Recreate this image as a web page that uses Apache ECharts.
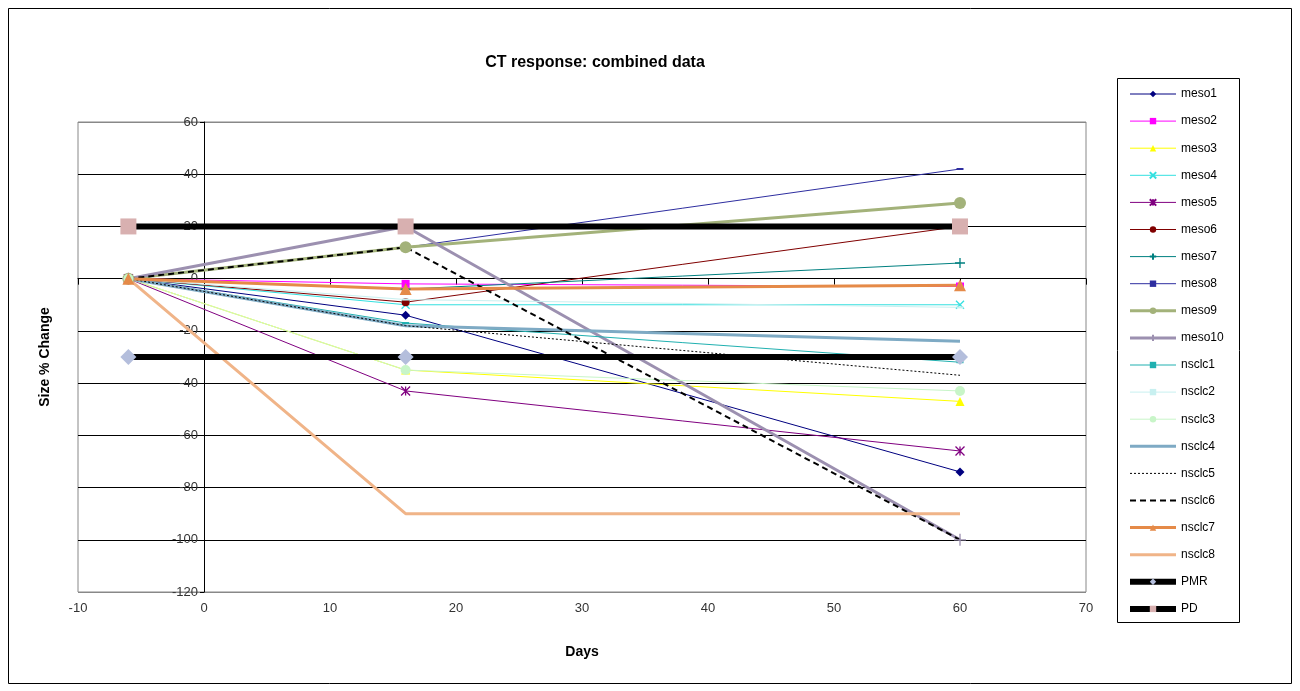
<!DOCTYPE html>
<html>
<head>
<meta charset="utf-8">
<script src="https://cdn.jsdelivr.net/npm/echarts@6/dist/echarts.min.js"></script>
<style>
  html, body { margin: 0; padding: 0; background: #fff; }
  #chart { width: 1300px; height: 691px; }
</style>
</head>
<body>
<div id="chart"></div>
<script>
// Scan days
const days = [-6, 16, 60];

// Size % change per patient at each scan
const meso1 = [0, -14, -74];
const meso2 = [0, -2, -3];
const meso3 = [0, -35, -47];
const meso4 = [0, -10, -10];
const meso5 = [0, -43, -66];
const meso6 = [0, -9, 20];
const meso7 = [0, -4, 6];
const meso8 = [0, 12, 42];
const meso9 = [0, 12, 29];
const meso10 = [0, 20, -100];
const nsclc1 = [0, -17, -32];
const nsclc2 = [0, -8, -11];
const nsclc3 = [0, -35, -43];
const nsclc4 = [0, -18, -24];
const nsclc5 = [0, -18, -37];
const nsclc6 = [0, 12, -100];
const nsclc7 = [0, -4, -2.5];
const nsclc8 = [0, -90, -90];
// Response thresholds
const PMR = [-30, -30, -30];
const PD = [20, 20, 20];

const xTicks = { min: -10, max: 70, interval: 10 };
const yTicks = { min: -120, max: 60, interval: 20 };

const FONT = 'Arial, "Liberation Sans", sans-serif';

// plot box
const W = 1300, GRID_LEFT = 78, GRID_RIGHT = 214;
const plotWidth = W - GRID_LEFT - GRID_RIGHT;
// the value axis sits on day 0: shift it right from the plot's left edge
const yAxisShift = (0 - xTicks.min) / (xTicks.max - xTicks.min) * plotWidth;

// stroke-only marker shapes
const X_PATH = 'path://M0,0 L10,10 M10,0 L0,10';
const PLUS_PATH = 'path://M5,0 L5,10 M0,5 L10,5';
const STAR_PATH = 'path://M0,0 L10,10 M10,0 L0,10 M5,0 L5,10';
const DASH = 'dash';

function pts(vals) { return days.map((d, i) => [d, vals[i]]); }

function mk(name, vals, color, width, symbol, size, opts) {
  opts = opts || {};
  const stroke = symbol === X_PATH || symbol === PLUS_PATH || symbol === STAR_PATH;
  const isDash = symbol === DASH;
  return {
    name: name,
    type: 'line',
    data: pts(vals),
    xAxisIndex: 0,
    yAxisIndex: 0,
    symbol: isDash ? 'rect' : (symbol || 'none'),
    symbolSize: isDash ? [size, 2] : (size || 0),
    symbolKeepAspect: false,
    showSymbol: !!symbol,
    lineStyle: { color: color, width: width, type: opts.type || 'solid' },
    itemStyle: stroke
      ? { color: 'rgba(0,0,0,0)', borderColor: opts.markColor || color, borderWidth: 1.3 }
      : { color: opts.markColor || color, borderWidth: 0 },
    emphasis: { disabled: true },
    animation: false,
    z: opts.z || 2
  };
}

const series = [
  mk('meso1', meso1, '#000080', 1, 'diamond', 9),
  mk('meso2', meso2, '#ff00ff', 1, 'rect', 8),
  mk('meso3', meso3, '#ffff00', 1, 'triangle', 9),
  mk('meso4', meso4, '#33e0e0', 1, X_PATH, 8),
  mk('meso5', meso5, '#800080', 1, STAR_PATH, 9),
  mk('meso6', meso6, '#800000', 1, 'circle', 8),
  mk('meso7', meso7, '#008080', 1, PLUS_PATH, 10),
  mk('meso8', meso8, '#2e2ea0', 1, DASH, 7),
  mk('meso9', meso9, '#a3b27a', 3, 'circle', 12),
  mk('meso10', meso10, '#9c90b0', 3, PLUS_PATH, 12),
  mk('nsclc1', nsclc1, '#20b0b0', 1, DASH, 7),
  mk('nsclc2', nsclc2, '#c8f0f0', 1, DASH, 7),
  mk('nsclc3', nsclc3, '#c8f5c8', 1, 'circle', 10),
  mk('nsclc4', nsclc4, '#7eaac4', 3, null, 0),
  mk('nsclc5', nsclc5, '#000000', 1, null, 0, { type: [2, 2] }),
  mk('nsclc6', nsclc6, '#000000', 2, null, 0, { type: [6, 4] }),
  mk('nsclc7', nsclc7, '#e58a48', 3, 'triangle', 12),
  mk('nsclc8', nsclc8, '#f0b488', 3, null, 0),
  mk('PMR', PMR, '#000000', 6, 'diamond', 16, { markColor: '#b4bedc', z: 3 }),
  mk('PD', PD, '#000000', 6, 'rect', 16, { markColor: '#d8b0b0', z: 3 })
];

// legend entries: series drawn without markers get a line-only key
const legendData = series.map(s => {
  if (s.showSymbol) return { name: s.name };
  return { name: s.name, itemStyle: { color: 'rgba(0,0,0,0)', borderColor: 'rgba(0,0,0,0)', opacity: 0 } };
});

const chart = echarts.init(document.getElementById('chart'), null, { renderer: 'canvas' });

chart.setOption({
  backgroundColor: '#ffffff',
  animation: false,
  title: {
    text: 'CT response: combined data',
    left: 590,
    top: 50,
    textAlign: 'center',
    textStyle: { fontFamily: FONT, fontSize: 16, fontWeight: 'bold', color: '#000' }
  },
  graphic: [
    {
      type: 'rect',
      shape: { x: 8.5, y: 8.5, width: 1283, height: 675 },
      style: { fill: 'none', stroke: '#000', lineWidth: 1 },
      silent: true, z: -10
    },
    {
      type: 'rect',
      shape: { x: 1117.5, y: 78.5, width: 122, height: 544 },
      style: { fill: '#fff', stroke: '#000', lineWidth: 1 },
      silent: true, z: -5
    },
    {
      type: 'text',
      x: 45,
      y: 357,
      rotation: Math.PI / 2,
      style: {
        text: 'Size % Change',
        fontFamily: FONT,
        fontSize: 14,
        fontWeight: 'bold',
        fill: '#000',
        align: 'center',
        verticalAlign: 'middle'
      },
      silent: true
    }
  ],
  legend: {
    orient: 'vertical',
    left: 1127,
    top: 88,
    itemWidth: 46,
    itemHeight: 8,
    itemGap: 15.1,
    padding: 0,
    selectedMode: false,
    lineStyle: { width: 'inherit' },
    textStyle: { fontFamily: FONT, fontSize: 12, color: '#000' },
    data: legendData
  },
  grid: {
    left: GRID_LEFT,
    right: GRID_RIGHT,
    top: 122,
    bottom: 99,
    show: true,
    borderColor: '#888',
    borderWidth: 1,
    containLabel: false,
    outerBoundsMode: 'none'
  },
  xAxis: [
    {
      type: 'value',
      position: 'bottom',
      min: xTicks.min, max: xTicks.max, interval: xTicks.interval,
      axisLine: { show: false, onZero: false },
      axisTick: { show: false },
      splitLine: { show: false },
      axisLabel: { fontFamily: FONT, fontSize: 13, color: '#333', margin: 10 },
      name: 'Days',
      nameLocation: 'middle',
      nameGap: 53,
      nameTextStyle: { fontFamily: FONT, fontSize: 14, fontWeight: 'bold', color: '#000' }
    },
    {
      type: 'value',
      position: 'top',
      min: xTicks.min, max: xTicks.max, interval: xTicks.interval,
      axisLine: { show: true, onZero: true, lineStyle: { color: '#000', width: 1 } },
      axisTick: { show: true, inside: true, length: 6, lineStyle: { color: '#000' } },
      axisLabel: { show: false },
      splitLine: { show: false }
    }
  ],
  yAxis: {
    type: 'value',
    position: 'left',
    offset: -yAxisShift,
    min: yTicks.min, max: yTicks.max, interval: yTicks.interval,
    axisLine: { show: true, onZero: false, lineStyle: { color: '#000', width: 1 } },
    axisTick: { show: true, length: 4, lineStyle: { color: '#000' } },
    axisLabel: { fontFamily: FONT, fontSize: 13, color: '#333', margin: 6 },
    splitLine: {
      show: true,
      lineStyle: { color: ['#888', '#000', '#000', '#000', '#000', '#000', '#000', '#000', '#000', '#888'], width: 1 }
    }
  },
  series: series
});
</script>
</body>
</html>
